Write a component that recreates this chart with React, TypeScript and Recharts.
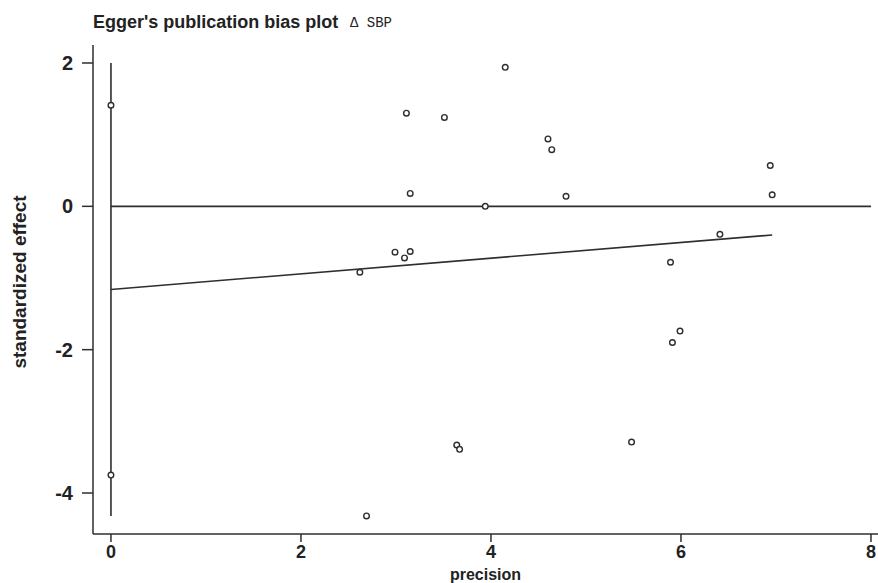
import React from 'react';
import { ScatterChart, Scatter, XAxis, YAxis, ReferenceLine } from 'recharts';

// precision (1/se) and standardized effect for each study
const precision = [0, 0, 2.62, 2.69, 2.99, 3.09, 3.11, 3.15, 3.15, 3.51, 3.64, 3.67, 3.94, 4.15, 4.6, 4.64, 4.79, 5.48, 5.89, 5.91, 5.99, 6.41, 6.94, 6.96];
const effect = [1.41, -3.75, -0.92, -4.32, -0.64, -0.72, 1.3, 0.18, -0.63, 1.24, -3.33, -3.39, 0.0, 1.94, 0.94, 0.79, 0.14, -3.29, -0.78, -1.9, -1.74, -0.39, 0.57, 0.16];

// Egger regression line end points
const fitX = [0, 6.96];
const fitY = [-1.16, -0.4];

// intercept CI drawn on the y axis (x = 0)
const ciLow = -4.32;
const ciHigh = 2;

const xTicks = [0, 2, 4, 6, 8];
const yTicks = [-4, -2, 0, 2];

const points = precision.map((p, i) => ({ x: p, y: effect[i] }));
const fitLine = fitX.map((x, i) => ({ x, y: fitY[i] }));

const INK = '#2e2e2e';
const FONT = '"Liberation Sans", Arial, sans-serif';

const HollowDot = (props: any) => (
  <circle cx={props.cx} cy={props.cy} r={2.8} fill="#fff" stroke={INK} strokeWidth={1.4} />
);

export default function App() {
  return (
    <div style={{ position: 'absolute', left: 0, top: 0, width: 878, height: 583, background: '#fff' }}>
      <svg width={878} height={40} style={{ position: 'absolute', left: 0, top: 0 }}>
        <text x={93} y={28} fontFamily={FONT} fontWeight="bold" fontSize={18} fill="#222">
          Egger's publication bias plot
        </text>
        <text x={350} y={27} fontFamily='"Liberation Mono", "DejaVu Sans Mono", monospace' fontSize={14} fill="#222">
          Δ SBP
        </text>
      </svg>
      <ScatterChart width={878} height={583} margin={{ top: 45, right: 0, bottom: 0, left: 0 }} style={{ position: 'absolute', left: 0, top: 0 }}>
        <XAxis
          type="number"
          dataKey="x"
          domain={[-0.189, 8.074]}
          ticks={xTicks}
          height={49}
          tickSize={8}
          tickMargin={3}
          stroke={INK}
          strokeWidth={1.5}
          tick={{ fill: '#222', fontSize: 18, fontWeight: 'bold', fontFamily: FONT }}
          label={{ value: 'precision', position: 'insideBottom', offset: 3, fill: '#222', fontSize: 16, fontWeight: 'bold', fontFamily: FONT }}
        />
        <YAxis
          type="number"
          dataKey="y"
          domain={[-4.572, 2.251]}
          ticks={yTicks}
          width={93}
          tickSize={11}
          tickMargin={9}
          stroke={INK}
          strokeWidth={1.5}
          tick={{ fill: '#222', fontSize: 20, fontWeight: 'bold', fontFamily: FONT }}
          label={{
            content: () => (
              <text x={26} y={282} transform="rotate(-90 26 282)" textAnchor="middle" fontFamily={FONT} fontWeight="bold" fontSize={19} fill="#222">
                standardized effect
              </text>
            ),
          }}
        />
        <ReferenceLine segment={[{ x: 0, y: 0 }, { x: 8, y: 0 }]} stroke={INK} strokeWidth={1.6} />
        <ReferenceLine segment={[{ x: 0, y: ciHigh }, { x: 0, y: ciLow }]} stroke={INK} strokeWidth={1.6} />
        <Scatter data={fitLine} line={{ stroke: INK, strokeWidth: 1.6 }} shape={() => <g />} isAnimationActive={false} />
        <Scatter data={points} shape={HollowDot} isAnimationActive={false} />
      </ScatterChart>
    </div>
  );
}
